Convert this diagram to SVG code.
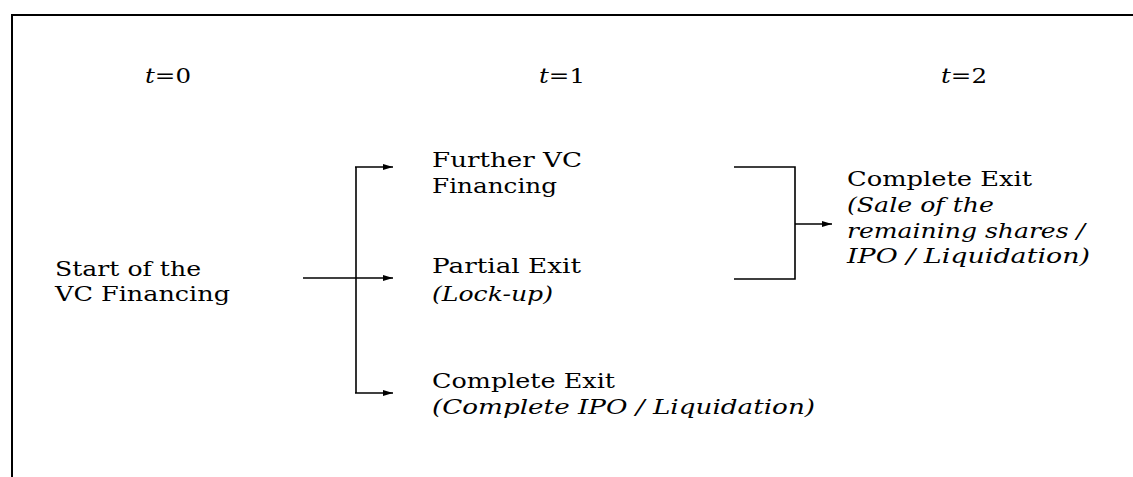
<svg xmlns="http://www.w3.org/2000/svg" width="1133" height="477" viewBox="0 0 1133 477">
  <defs>
    <style>
      .t { font-family: 'DejaVu Serif', 'Liberation Serif', serif; font-size: 20px; fill: #000; }
      .it { font-style: italic; }
      .frame { stroke: #000; stroke-width: 2; fill: none; }
      .conn { stroke: #000; stroke-width: 1.6; fill: none; }
    </style>
    <marker id="arr" markerUnits="userSpaceOnUse" markerWidth="10" markerHeight="8" refX="10" refY="4" orient="auto">
      <path d="M0,1 L10,4 L0,7 Z" fill="#000"/>
    </marker>
  </defs>
  <rect width="1133" height="477" fill="#fff"/>
  <g id="frame">
    <path class="frame" d="M12,477 V15 H1133"/>
  </g>
  <g id="time-labels" class="t">
    <text x="145" y="83" textLength="46" lengthAdjust="spacingAndGlyphs"><tspan class="it">t</tspan>=0</text>
    <text x="539" y="83" textLength="46" lengthAdjust="spacingAndGlyphs"><tspan class="it">t</tspan>=1</text>
    <text x="941" y="83" textLength="46" lengthAdjust="spacingAndGlyphs"><tspan class="it">t</tspan>=2</text>
  </g>
  <g id="connectors">
    <path class="conn" d="M303,278 H355"/>
    <path class="conn" d="M356,167 V393"/>
    <path class="conn" d="M355,167 H393" marker-end="url(#arr)"/>
    <path class="conn" d="M355,278 H393" marker-end="url(#arr)"/>
    <path class="conn" d="M355,393 H393" marker-end="url(#arr)"/>
    <path class="conn" d="M734,167 H795 V279 H734"/>
    <path class="conn" d="M795,224 H832" marker-end="url(#arr)"/>
  </g>
  <g id="node-start" class="t">
    <text x="55" y="276" textLength="146" lengthAdjust="spacingAndGlyphs">Start of the</text>
    <text x="55" y="301" textLength="175" lengthAdjust="spacingAndGlyphs">VC Financing</text>
  </g>
  <g id="node-further" class="t">
    <text x="432" y="167" textLength="150" lengthAdjust="spacingAndGlyphs">Further VC</text>
    <text x="432" y="192.5" textLength="125" lengthAdjust="spacingAndGlyphs">Financing</text>
  </g>
  <g id="node-partial" class="t">
    <text x="432" y="273" textLength="149" lengthAdjust="spacingAndGlyphs">Partial Exit</text>
    <text class="it" x="432" y="301" textLength="121" lengthAdjust="spacingAndGlyphs">(Lock-up)</text>
  </g>
  <g id="node-complete1" class="t">
    <text x="432" y="388" textLength="183" lengthAdjust="spacingAndGlyphs">Complete Exit</text>
    <text class="it" x="432" y="414" textLength="383" lengthAdjust="spacingAndGlyphs">(Complete IPO / Liquidation)</text>
  </g>
  <g id="node-complete2" class="t">
    <text x="847" y="186" textLength="185" lengthAdjust="spacingAndGlyphs">Complete Exit</text>
    <text class="it" x="847" y="212" textLength="147" lengthAdjust="spacingAndGlyphs">(Sale of the</text>
    <text class="it" x="847" y="237.5" textLength="238" lengthAdjust="spacingAndGlyphs">remaining shares /</text>
    <text class="it" x="847" y="263" textLength="243" lengthAdjust="spacingAndGlyphs">IPO / Liquidation)</text>
  </g>
</svg>
